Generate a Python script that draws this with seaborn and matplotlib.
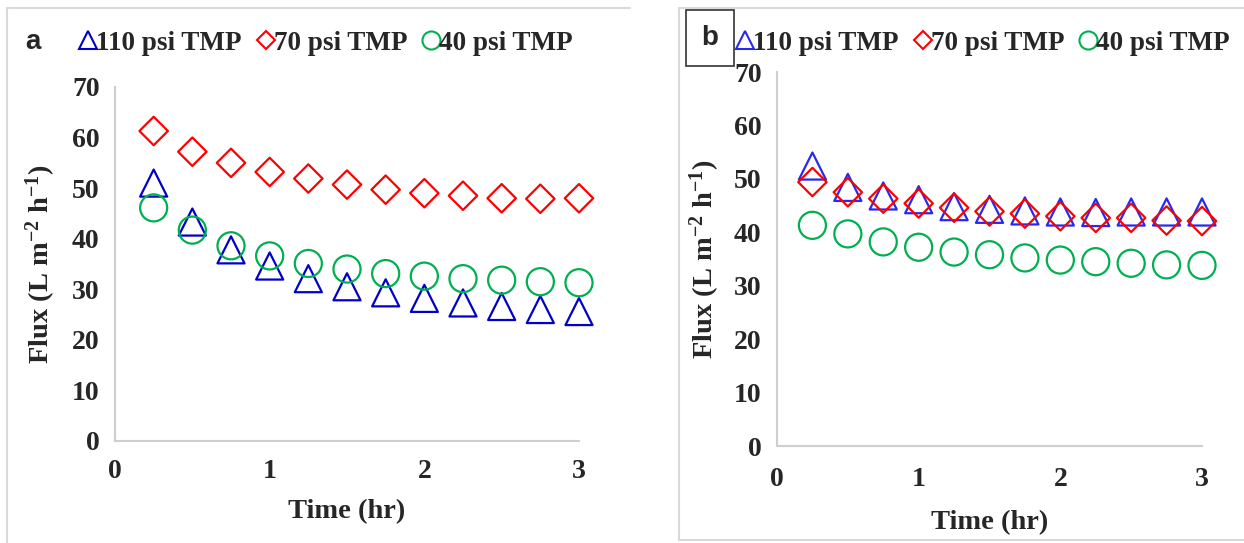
import seaborn as sns
import numpy as np
import pandas as pd
import matplotlib.pyplot as plt
from matplotlib.lines import Line2D

sns.set_style("white")
plt.rcParams['font.family'] = ['Liberation Serif', 'DejaVu Serif']
plt.rcParams['font.weight'] = 'bold'
plt.rcParams['mathtext.fontset'] = 'custom'
plt.rcParams['mathtext.bf'] = 'Liberation Serif:bold'
plt.rcParams['mathtext.rm'] = 'Liberation Serif:bold'
plt.rcParams['mathtext.default'] = 'bf'

# time in hours
time_hr = [0.25, 0.5, 0.75, 1.0, 1.25, 1.5, 1.75, 2.0, 2.25, 2.5, 2.75, 3.0]

# panel a
a_110 = [51.0, 43.3, 37.8, 34.6, 32.1, 30.5, 29.3, 28.2, 27.3, 26.6, 26.0, 25.6]
a_70 = [61.3, 57.2, 55.0, 53.2, 51.9, 50.7, 49.7, 49.0, 48.5, 48.0, 47.9, 48.0]
a_40 = [46.1, 41.7, 38.6, 36.6, 35.1, 34.0, 33.1, 32.6, 32.1, 31.8, 31.5, 31.3]

# panel b
b_110 = [52.4, 48.4, 46.8, 46.1, 44.8, 44.3, 44.0, 43.8, 43.7, 43.8, 43.8, 43.8]
b_70 = [49.4, 47.5, 46.3, 45.4, 44.6, 43.9, 43.5, 43.0, 42.7, 42.7, 42.2, 42.1]
b_40 = [41.3, 39.7, 38.2, 37.2, 36.3, 35.8, 35.2, 34.8, 34.5, 34.2, 33.9, 33.8]

labels = ['110 psi TMP', '70 psi TMP', '40 psi TMP']
markers = ['^', 'D', 'o']
sizes = [380, 210, 380]
colors_a = ['#0000C8', '#FF0000', '#00B050']
colors_b = ['#2828F0', '#FF0000', '#00B050']

fig = plt.figure(figsize=(12.44, 5.43), dpi=100)
W, H = 1244, 543


def fx(px):
    return px / W


def fy(py):
    return 1 - py / H


ax_a = fig.add_axes([fx(115), fy(441), fx(579) - fx(115), fy(87) - fy(441)])
ax_b = fig.add_axes([fx(777), fy(446), fx(1202) - fx(777), fy(72) - fy(446)])


def draw(ax, series, colors, xpad, xlabpad, ylabpad):
    for vals, lab, m, s, c in zip(series, labels, markers, sizes, colors):
        df = pd.DataFrame({'Time': time_hr, 'Flux': vals})
        sns.scatterplot(data=df, x='Time', y='Flux', ax=ax, marker=m, s=s,
                        facecolors='none', edgecolor=c, linewidth=1.6, label=lab,
                        clip_on=False, zorder=3)
    ax.set_xlim(0, 3)
    ax.set_ylim(0, 70)
    ax.set_xticks([0, 1, 2, 3])
    ax.set_yticks(range(0, 71, 10))
    ax.tick_params(axis='both', length=0, labelsize=20)
    ax.tick_params(axis='y', pad=11)
    ax.tick_params(axis='x', pad=xpad)
    for sp in ['top', 'right']:
        ax.spines[sp].set_visible(False)
    for sp in ['left', 'bottom']:
        ax.spines[sp].set_color('#CFCFCF')
        ax.spines[sp].set_linewidth(1.5)
    ax.set_xlabel('Time (hr)', fontsize=20.5, fontweight='bold', labelpad=xlabpad)
    ax.set_ylabel(r'Flux (L m$^{-2}$ h$^{-1}$)', fontsize=20.5, fontweight='bold', labelpad=ylabpad)
    for t in ax.get_xticklabels() + ax.get_yticklabels():
        t.set_fontweight('bold')
    ax.get_legend().remove()
    handles = [Line2D([], [], linestyle='none', marker=m, markersize=ms,
                      markerfacecolor='none', markeredgecolor=c, markeredgewidth=1.5)
               for m, c, ms in zip(markers, colors, [13, 9, 13])]
    return handles


h_a = draw(ax_a, [a_110, a_70, a_40], colors_a, 13, 11, 10)
h_b = draw(ax_b, [b_110, b_70, b_40], colors_b, 15, 13, 9)

leg_kw = dict(loc='center left', ncol=3, frameon=False, borderpad=0, handletextpad=0.05,
              columnspacing=0.62, handlelength=0.5, prop={'size': 19.5, 'weight': 'bold'})
fig.legend(h_a, labels, bbox_to_anchor=(fx(68), fy(43)), **leg_kw)
fig.legend(h_b, labels, bbox_to_anchor=(fx(725), fy(43)), **leg_kw)

fig.text(fx(33), fy(42), 'a', family='Liberation Sans', fontweight='bold', fontsize=20,
         ha='center', va='center')
fig.text(fx(710), fy(38), 'b', family='Liberation Sans', fontweight='bold', fontsize=20,
         ha='center', va='center',
         bbox=dict(boxstyle='square,pad=0.55', facecolor='white', edgecolor='#333333', lw=1.2))

# panel frames
fc = '#D9D9D9'
fig.add_artist(Line2D([fx(7), fx(7)], [fy(8), 0], transform=fig.transFigure, color=fc, lw=1.5))
fig.add_artist(Line2D([fx(7), fx(630)], [fy(8), fy(8)], transform=fig.transFigure, color=fc, lw=1.5))
fig.add_artist(Line2D([fx(679), fx(679)], [fy(8), fy(540)], transform=fig.transFigure, color=fc, lw=1.5))
fig.add_artist(Line2D([fx(679), 1], [fy(8), fy(8)], transform=fig.transFigure, color=fc, lw=1.5))
fig.add_artist(Line2D([fx(679), 1], [fy(540), fy(540)], transform=fig.transFigure, color=fc, lw=1.5))

fig.savefig('out.png', dpi=100)
